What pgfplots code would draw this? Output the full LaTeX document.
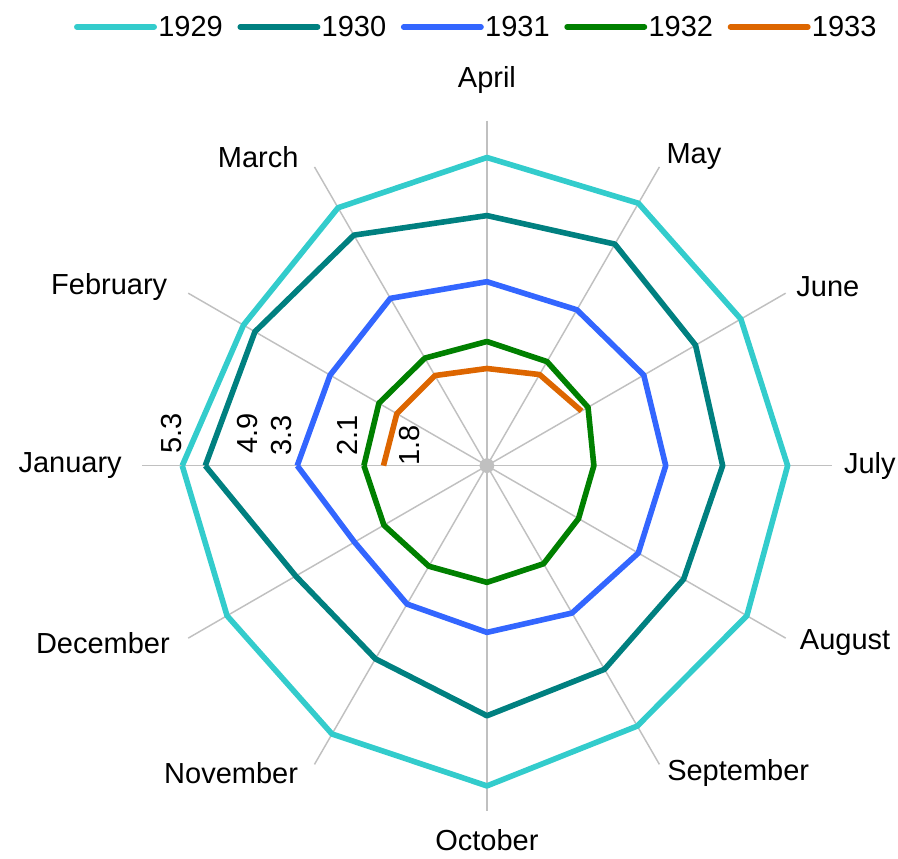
\documentclass[border=0pt]{standalone}
\usepackage{fontspec}
\setmainfont{Liberation Sans}
\usepackage{pgfplots}
\pgfplotsset{compat=1.18}
\definecolor{c1929}{RGB}{51,204,204}
\definecolor{c1930}{RGB}{0,128,128}
\definecolor{c1931}{RGB}{51,102,255}
\definecolor{c1932}{RGB}{0,128,0}
\definecolor{c1933}{RGB}{221,102,0}
\definecolor{spoke}{RGB}{192,192,192}
\begin{document}
\begin{tikzpicture}[font=\fontsize{21.75}{26}\selectfont]
\begin{axis}[
  x=43.125pt, y=43.125pt,
  xmin=-8.47, xmax=7.15, ymin=-6.83, ymax=8.10,
  hide axis, clip=false,
  legend columns=5,
  legend style={draw=none, fill=none, at={(0.530,0.9686)}, anchor=center,
    font=\fontsize{21.75}{26}\selectfont,
    nodes={inner xsep=1pt, inner ysep=1pt},
    /tikz/every even column/.append style={column sep=10pt}},
  legend image code/.code={\draw[#1, line cap=round] (0pt,0pt) -- (58pt,0pt);},
  every axis plot/.append style={line width=4.2pt, line join=round},
]
% spokes
\addplot[data cs=polar, spoke, line width=1.1pt, forget plot] coordinates {(0,6) (180,6)};
\addplot[data cs=polar, spoke, line width=1.1pt, forget plot] coordinates {(30,6) (210,6)};
\addplot[data cs=polar, spoke, line width=1.1pt, forget plot] coordinates {(60,6) (240,6)};
\addplot[data cs=polar, spoke, line width=1.1pt, forget plot] coordinates {(90,6) (270,6)};
\addplot[data cs=polar, spoke, line width=1.1pt, forget plot] coordinates {(120,6) (300,6)};
\addplot[data cs=polar, spoke, line width=1.1pt, forget plot] coordinates {(150,6) (330,6)};
\addplot[only marks, mark=*, mark size=3.5pt, spoke, forget plot] coordinates {(0,0)};
% series: angle (Jan=180, Feb=150, ..., Dec=-150), value
\addplot[data cs=polar, c1929] coordinates {
 (180,5.3) (150,4.89) (120,5.18) (90,5.36) (60,5.27) (30,5.10)
 (0,5.23) (-30,5.22) (-60,5.23) (-90,5.57) (-120,5.39) (-150,5.22) (-180,5.3)};
\addlegendentry{1929}
\addplot[data cs=polar, c1930] coordinates {
 (180,4.9) (150,4.66) (120,4.63) (90,4.35) (60,4.45) (30,4.19)
 (0,4.10) (-30,3.95) (-60,4.09) (-90,4.35) (-120,3.88) (-150,3.84) (-180,4.9)};
\addlegendentry{1930}
\addplot[data cs=polar, c1931] coordinates {
 (180,3.3) (150,3.15) (120,3.36) (90,3.20) (60,3.13) (30,3.15)
 (0,3.11) (-30,3.04) (-60,2.96) (-90,2.90) (-120,2.78) (-150,2.66) (-180,3.3)};
\addlegendentry{1931}
\addplot[data cs=polar, c1932] coordinates {
 (180,2.14) (150,2.17) (120,2.16) (90,2.16) (60,2.09) (30,2.03)
 (0,1.86) (-30,1.84) (-60,1.97) (-90,2.03) (-120,2.02) (-150,2.07) (-180,2.14)};
\addlegendentry{1932}
\addplot[data cs=polar, c1933] coordinates {
 (180,1.8) (150,1.81) (120,1.81) (90,1.69) (60,1.83) (30,1.90)};
\addlegendentry{1933}
% month labels
\node at (axis cs:0,6.71) {April};
\node at (axis cs:3.60,5.37) {May};
\node at (axis cs:5.93,3.11) {June};
\node at (axis cs:6.66,0) {July};
\node at (axis cs:6.23,-3.08) {August};
\node at (axis cs:4.37,-5.34) {September};
\node at (axis cs:0,-6.52) {October};
\node at (axis cs:-4.45,-5.34) {November};
\node at (axis cs:-6.68,-3.08) {December};
\node at (axis cs:-7.25,0) {January};
\node at (axis cs:-6.57,3.11) {February};
\node at (axis cs:-3.98,5.37) {March};
% data labels (January)
\node[rotate=90] at (axis cs:-5.48,0.56) {5.3};
\node[rotate=90] at (axis cs:-4.17,0.56) {4.9};
\node[rotate=90] at (axis cs:-3.57,0.52) {3.3};
\node[rotate=90] at (axis cs:-2.43,0.52) {2.1};
\node[rotate=90] at (axis cs:-1.34,0.35) {1.8};
\coordinate (bl) at (axis cs:-8.47,-6.83);
\coordinate (tr) at (axis cs:7.15,8.10);
\end{axis}
\pgfresetboundingbox
\path[use as bounding box] (bl) rectangle (tr);
\end{tikzpicture}
\end{document}
